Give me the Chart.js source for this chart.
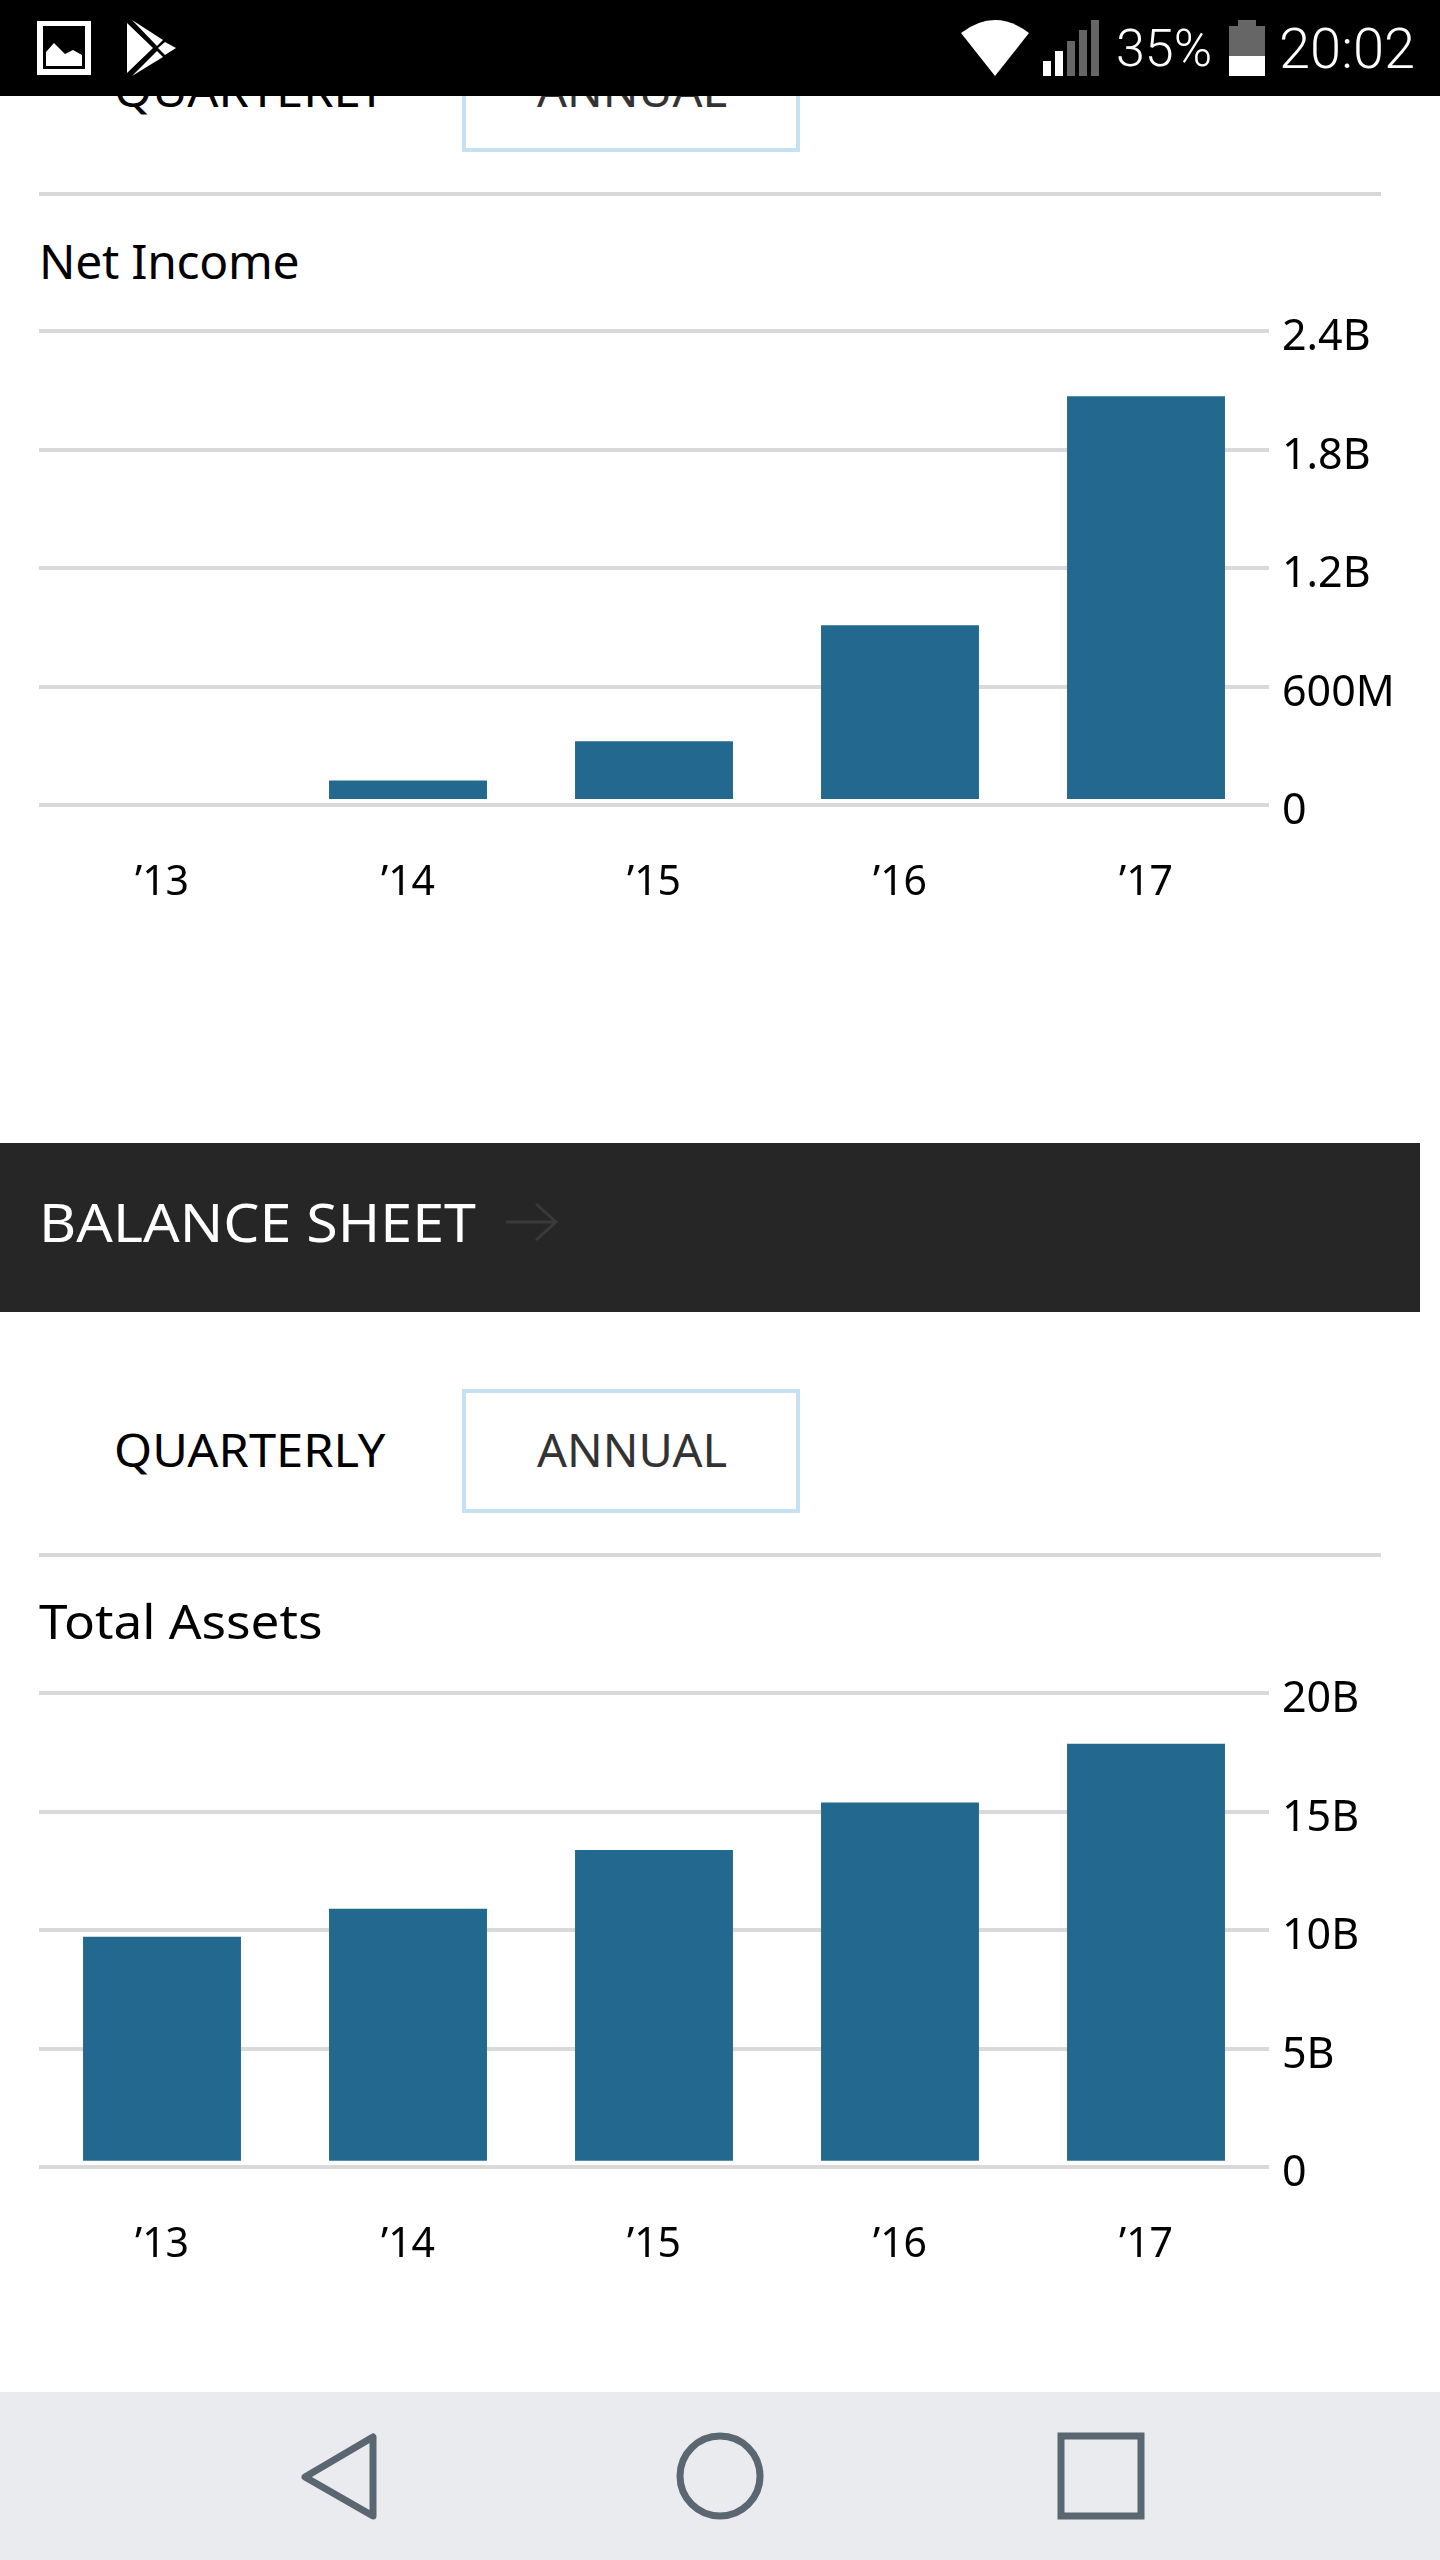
<!DOCTYPE html>
<html>
<head>
<meta charset="utf-8">
<title>Net Income and Total Assets</title>
<script src="https://cdn.jsdelivr.net/npm/chart.js@4/dist/chart.umd.min.js"></script>
<style>
  html, body { margin: 0; padding: 0; background: #fff; }
  body { position: relative; width: 1440px; height: 2560px; overflow: hidden; font-family: "Noto Sans", sans-serif; color: #000; }
  .abs { position: absolute; white-space: nowrap; transform-origin: left center; }
  canvas { position: absolute; left: 0; }
  .statusbar { position: absolute; left: 0; top: 0; width: 1440px; height: 96px; background: #000; z-index: 5; }
  .statusbar span { position: absolute; color: #fff; font-family: Roboto, sans-serif; font-weight: 300; line-height: 96px; top: 1px; }
  .navbar { position: absolute; left: 0; top: 2392px; width: 1440px; height: 168px; background: #e9ebef; }
  .band { position: absolute; left: 0; top: 1143px; width: 1420px; height: 169px; background: #262626; }
  .rule { position: absolute; left: 39px; width: 1342px; height: 4px; background: #d8d8d8; }
  .tab { font-size: 45px; line-height: 60px; }
  .quarterly { left: 114px; transform: scaleX(1.085); }
  .annual { left: 537px; color: #333; transform: scaleX(1.045); }
  .box { position: absolute; left: 462px; width: 338px; height: 124px; box-sizing: border-box; border: 4px solid #c5e1f2; }
  .title { font-size: 48px; line-height: 64px; left: 39px; }
</style>
</head>
<body>

<div class="tab abs quarterly" style="top:60px;">QUARTERLY</div>
<div class="tab abs annual" style="top:60px;">ANNUAL</div>
<div class="box" style="top:28px;"></div>
<div class="rule" style="top:192px;"></div>
<div class="title abs" style="top:229px;letter-spacing:-0.3px;">Net Income</div>

<div class="band"></div>
<div class="abs" style="left:39px;top:1188px;font-size:52px;line-height:68px;color:#fff;transform:scaleX(1.103);">BALANCE SHEET</div>
<svg class="abs" style="left:504px;top:1199px;" width="56" height="46" viewBox="0 0 56 46">
  <path d="M2 23H52M32 5L52 23L32 41" fill="none" stroke="#3a3a3a" stroke-width="3"/>
</svg>

<div class="tab abs quarterly" style="top:1420px;">QUARTERLY</div>
<div class="box" style="top:1389px;"></div>
<div class="tab abs annual" style="top:1420px;">ANNUAL</div>
<div class="rule" style="top:1553px;"></div>
<div class="title abs" style="top:1589px;transform:scaleX(1.068);">Total Assets</div>

<canvas id="net-income-chart" width="1440" height="640" style="top:300px;"></canvas>
<canvas id="total-assets-chart" width="1440" height="640" style="top:1662px;"></canvas>

<div class="statusbar">
  <svg class="abs" style="left:0;top:0;" width="1440" height="96" viewBox="0 0 1440 96">
    <path d="M37 21H91V75H37Z M43 26V69H85V26Z" fill="#fff" fill-rule="evenodd"/>
    <path d="M46 66V52L54 43L65 54L73 50L82 55V66Z" fill="#fff"/>
    <path d="M127 23L153 48L127 73Z" fill="#fff"/>
    <path d="M132 20L163 40L157 46Z" fill="#fff"/>
    <path d="M132 76L163 57L157 51Z" fill="#fff"/>
    <path d="M165 42L176 48L165 55L158 48Z" fill="#fff"/>
    <path d="M961 33Q995 7 1029 33L995 76Z" fill="#fff"/>
    <rect x="1043" y="61" width="8" height="15" fill="#fff"/>
    <rect x="1055" y="51" width="8" height="25" fill="#fff"/>
    <rect x="1067" y="41" width="8" height="35" fill="#666"/>
    <rect x="1079" y="30" width="8" height="46" fill="#666"/>
    <rect x="1091" y="20" width="8" height="56" fill="#666"/>
    <rect x="1238" y="20" width="18" height="6" fill="#666"/>
    <rect x="1229" y="26" width="36" height="30" fill="#666"/>
    <rect x="1229" y="56" width="36" height="20" fill="#fff"/>
  </svg>
  <span style="left:1116px;font-size:52px;">35%</span>
  <span style="left:1279px;font-size:56px;">20:02</span>
</div>

<div class="navbar">
  <svg width="1440" height="168" viewBox="0 0 1440 168">
    <path d="M373 45V124L305 85Z" fill="none" stroke="#5a6670" stroke-width="7" stroke-linejoin="round"/>
    <circle cx="720" cy="84" r="40" fill="none" stroke="#5a6670" stroke-width="7"/>
    <rect x="1061" y="44" width="80" height="80" fill="none" stroke="#5a6670" stroke-width="7"/>
  </svg>
</div>

<script>
'use strict';

const years = ["\u201913", "\u201914", "\u201915", "\u201916", "\u201917"];

const netIncomeValues = [null, 124e6, 323e6, 910e6, 2069e6];
const netIncomeTicks = ['0', '600M', '1.2B', '1.8B', '2.4B'];
const netIncomeMax = 2.4e9;
const netIncomeStep = 600e6;
const netIncomeBase = 31e6;

const totalAssetsValues = [9.72e9, 10.9e9, 13.38e9, 15.38e9, 17.86e9];
const totalAssetsTicks = ['0', '5B', '10B', '15B', '20B'];
const totalAssetsMax = 20e9;
const totalAssetsStep = 5e9;
const totalAssetsBase = 0.26e9;

const BAR_COLOR = '#23688f';
const GRID_COLOR = '#d9d9d9';
const FONT_FAMILY = '"Noto Sans", sans-serif';

/**
 * Build one annual bar chart on the given canvas.
 */
function renderBarChart(canvasId, values, ticks, max, step, base) {
    return new Chart(document.getElementById(canvasId), {
        type: 'bar',
        data: {
            labels: years,
            datasets: [{
                data: values,
                base: base,
                backgroundColor: BAR_COLOR,
                barPercentage: 0.642,
                categoryPercentage: 1
            }]
        },
        options: {
            responsive: false,
            animation: false,
            layout: { padding: { left: 39, top: 31, right: 0, bottom: 0 } },
            plugins: { legend: { display: false }, tooltip: { enabled: false } },
            scales: {
                x: {
                    grid: { display: false },
                    border: { display: false },
                    ticks: { color: '#000', font: { family: FONT_FAMILY, size: 41 }, padding: 46, maxRotation: 0 },
                    afterFit: scale => { scale.height = 135; }
                },
                y: {
                    position: 'right',
                    min: 0,
                    max: max,
                    grid: { color: GRID_COLOR, lineWidth: 4, drawTicks: false },
                    border: { display: false },
                    ticks: {
                        color: '#000',
                        // blank first line + 14px line height drops the label just below its gridline
                        font: { family: FONT_FAMILY, size: 43, lineHeight: 14 / 43 },
                        padding: 13,
                        stepSize: step,
                        callback: (value, index) => ['', ticks[index]]
                    },
                    afterFit: scale => { scale.width = 171; }
                }
            }
        }
    });
}

renderBarChart('net-income-chart', netIncomeValues, netIncomeTicks, netIncomeMax, netIncomeStep, netIncomeBase);
renderBarChart('total-assets-chart', totalAssetsValues, totalAssetsTicks, totalAssetsMax, totalAssetsStep, totalAssetsBase);
</script>
</body>
</html>
